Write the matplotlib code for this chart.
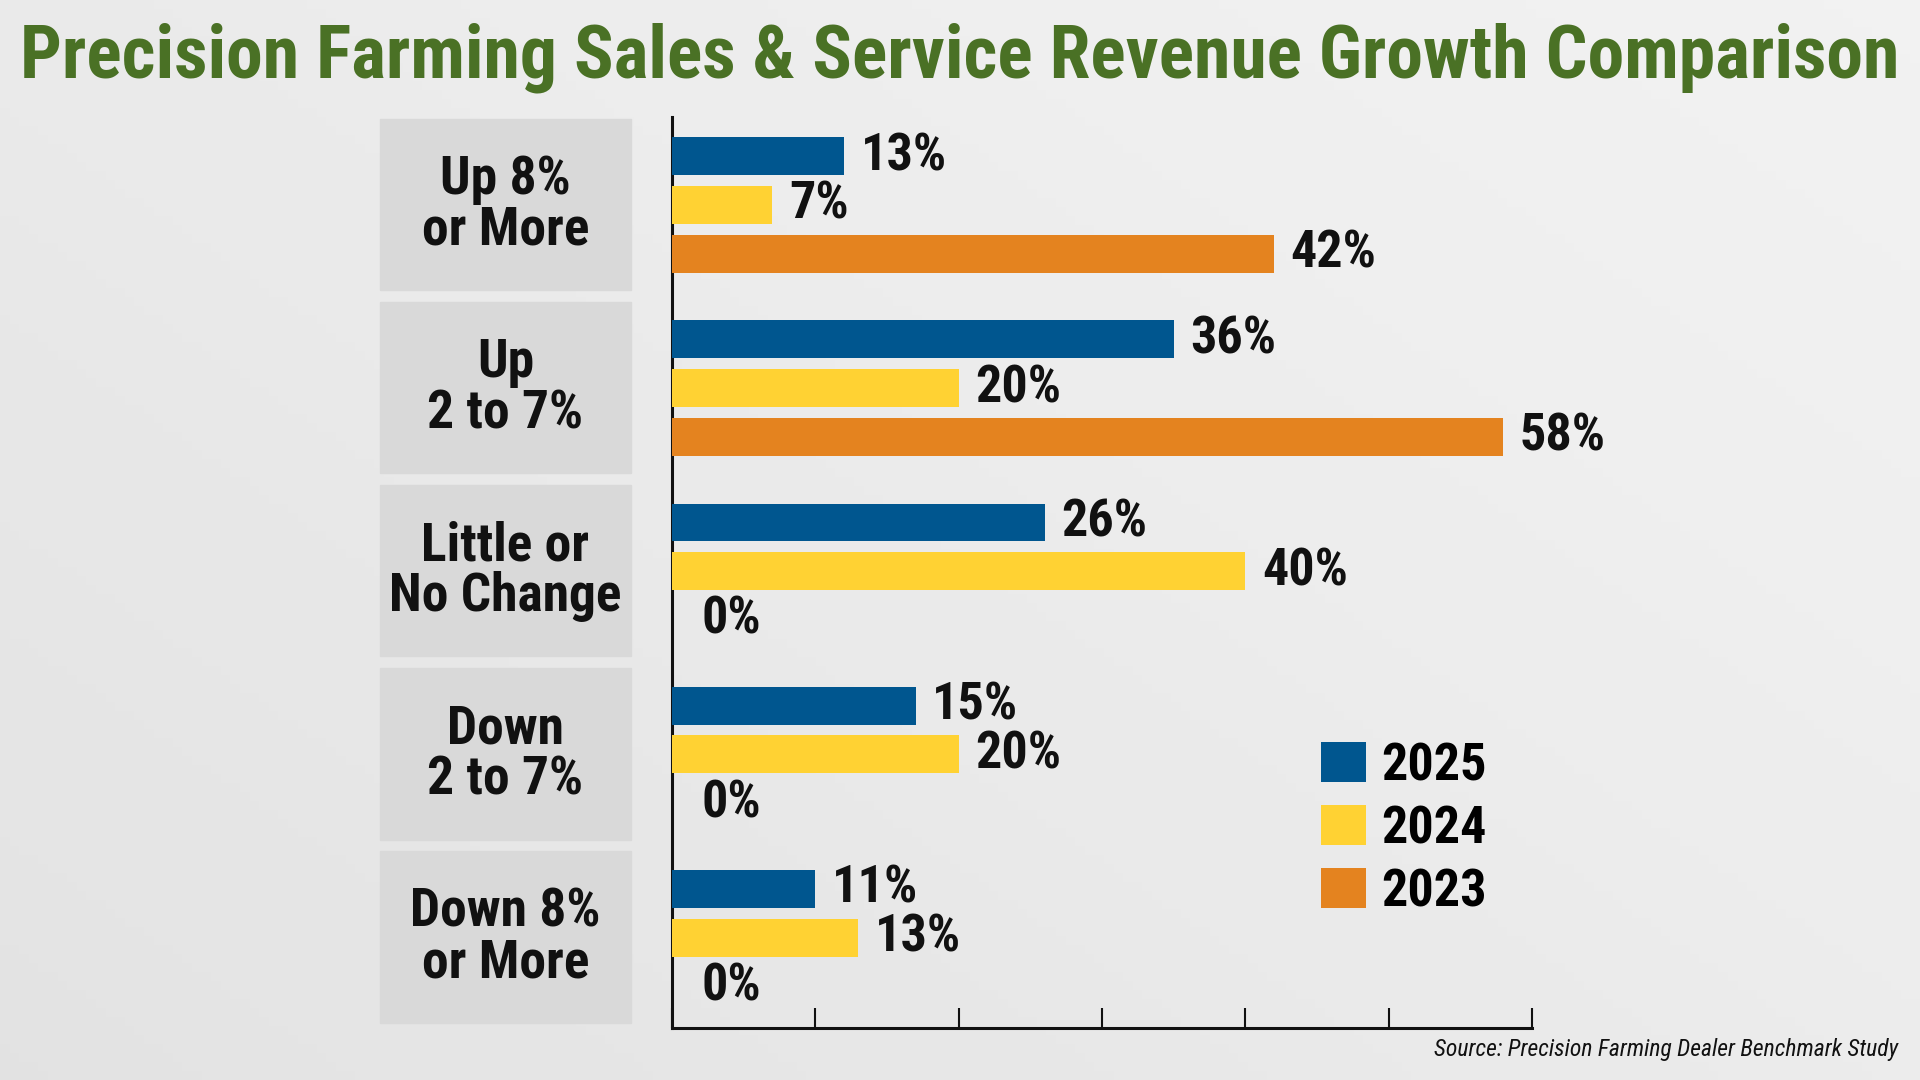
import numpy as np
import matplotlib; matplotlib.use('Agg')
import matplotlib.pyplot as plt
from matplotlib.patches import Patch, Rectangle

# data (bar lengths as drawn, labels as printed)
CATS = ['Up 8%\nor More', 'Up\n2 to 7%', 'Little or\nNo Change', 'Down\n2 to 7%', 'Down 8%\nor More']
YEARS = ['2025', '2024', '2023']
V2025 = [12, 35, 26, 17, 10]
V2024 = [7, 20, 40, 20, 13]
V2023 = [42, 58, 0, 0, 0]
L2025 = ['13%', '36%', '26%', '15%', '11%']
L2024 = ['7%', '20%', '40%', '20%', '13%']
L2023 = ['42%', '58%', '0%', '0%', '0%']
COLORS = ['#00568F', '#FFD233', '#E4831F']
BOXC = '#D9D9D9'
GREEN = '#4A7125'
FONT = ['Roboto Condensed', 'DejaVu Sans']
plt.rcParams['font.family'] = FONT

fig = plt.figure(figsize=(19.2, 10.8), dpi=100)

# soft grey background gradient
bg = fig.add_axes([0, 0, 1, 1], zorder=-10)
gx, gy = np.meshgrid(np.linspace(0, 1, 200), np.linspace(0, 1, 120))
bg.imshow(0.55 * gx + 0.45 * gy, cmap='Greys_r', vmin=-9, vmax=2.2, aspect='auto',
          extent=[0, 1, 0, 1], origin='lower')
bg.axis('off')

ax = fig.add_axes([0.35, 0.0481, 0.4479, 0.8436])
ax.patch.set_alpha(0)
y = np.arange(len(CATS))
off, h = 0.266, 0.207
for k, (vals, labs) in enumerate([(V2025, L2025), (V2024, L2024), (V2023, L2023)]):
    yy = y + (k - 1) * off
    ax.barh(yy, vals, h, color=COLORS[k], zorder=3, label=YEARS[k])
    for yi, v, s in zip(yy, vals, labs):
        ax.annotate(s, (v, yi), xytext=(12 if v > 0 else 21, 0), textcoords='offset points',
                    ha='left', va='center', fontsize=37.5, fontweight='bold', color='#111111')

# category boxes on the left
tr = ax.get_yaxis_transform()
for yi, c in zip(y, CATS):
    ax.add_patch(Rectangle((-0.3395, yi - 0.47), 0.2919, 0.935, transform=tr,
                           color=BOXC, clip_on=False, zorder=1))
    ax.text(-0.1936, yi, c, transform=tr, ha='center', va='center', fontsize=38.5,
            fontweight='bold', linespacing=1.0, color='#111111')

ax.set_xlim(0, 60)
ax.set_ylim(4.494, -0.48)
ax.set_xticks(np.arange(0, 61, 10))
ax.set_xticklabels([])
ax.set_yticks([])
ax.tick_params(axis='x', direction='in', length=14.4, width=1.5, color='#111111')
ax.spines[['top', 'right']].set_visible(False)
for s in ['left', 'bottom']:
    ax.spines[s].set_linewidth(2.2)
    ax.spines[s].set_color('#111111')

ax.legend(handles=[Patch(facecolor=c, label=t) for c, t in zip(COLORS, YEARS)],
          loc='upper left', bbox_to_anchor=(0.755, 0.315), frameon=False,
          prop={'family': FONT, 'size': 37.5, 'weight': 'bold'},
          handlelength=0.85, handleheight=0.83, handletextpad=0.3,
          labelspacing=0.25, borderpad=0, borderaxespad=0)

fig.text(0.5, 0.947, 'Precision Farming Sales & Service Revenue Growth Comparison',
         ha='center', va='center', fontsize=53, fontweight='bold', color=GREEN)
fig.text(0.9885, 0.0287, 'Source: Precision Farming Dealer Benchmark Study',
         ha='right', va='center', fontsize=17, style='italic', color='#111111')

fig.savefig('out.png', dpi=100)
